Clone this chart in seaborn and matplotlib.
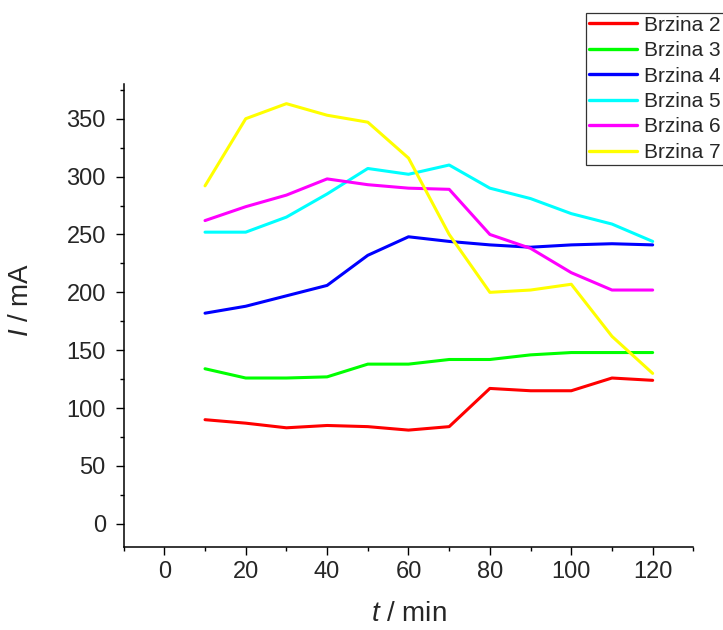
import matplotlib
matplotlib.use("Agg")
import matplotlib.pyplot as plt
import seaborn as sns
import pandas as pd
from matplotlib.ticker import MultipleLocator

# Time points (min) and current readings (mA) for each speed
t_min = [10, 20, 30, 40, 50, 60, 70, 80, 90, 100, 110, 120]
brzina_2 = [90, 87, 83, 85, 84, 81, 84, 117, 115, 115, 126, 124]
brzina_3 = [134, 126, 126, 127, 138, 138, 142, 142, 146, 148, 148, 148]
brzina_4 = [182, 188, 197, 206, 232, 248, 244, 241, 239, 241, 242, 241]
brzina_5 = [252, 252, 265, 285, 307, 302, 310, 290, 281, 268, 259, 244]
brzina_6 = [262, 274, 284, 298, 293, 290, 289, 250, 238, 217, 202, 202]
brzina_7 = [292, 350, 363, 353, 347, 316, 250, 200, 202, 207, 162, 130]

series_names = ["Brzina 2", "Brzina 3", "Brzina 4", "Brzina 5", "Brzina 6", "Brzina 7"]
series_values = [brzina_2, brzina_3, brzina_4, brzina_5, brzina_6, brzina_7]
colors = ["#ff0000", "#00ff00", "#0000ff", "#00ffff", "#ff00ff", "#ffff00"]

# Long format for seaborn
rows = []
for name, vals in zip(series_names, series_values):
    for t, v in zip(t_min, vals):
        rows.append({"t": t, "I": v, "series": name})
df = pd.DataFrame(rows)

sns.set_style("ticks")
plt.rcParams["font.family"] = ["Liberation Sans", "DejaVu Sans"]
plt.rcParams["mathtext.fontset"] = "custom"
plt.rcParams["mathtext.rm"] = "Liberation Sans"
plt.rcParams["mathtext.it"] = "Liberation Sans:italic"

fig = plt.figure(figsize=(7.23, 6.3), dpi=100)
ax = fig.add_axes([0.171, 0.1317, 0.788, 0.735])

sns.lineplot(
    data=df, x="t", y="I", hue="series",
    palette=dict(zip(series_names, colors)),
    linewidth=2.2, ax=ax, legend=False,
)

ax.set_xlim(-10, 130)
ax.set_ylim(-20, 380)
ax.xaxis.set_minor_locator(MultipleLocator(10))
ax.yaxis.set_minor_locator(MultipleLocator(25))
ax.set_xticks([0, 20, 40, 60, 80, 100, 120])
ax.set_yticks([0, 50, 100, 150, 200, 250, 300, 350])
ax.tick_params(axis="both", which="major", direction="out", length=5.8, width=1,
               labelsize=17, color="black")
ax.tick_params(axis="both", which="minor", direction="out", length=3, width=1,
               color="black")
ax.tick_params(axis="x", which="major", pad=4.5)
ax.tick_params(axis="y", which="major", pad=7)

for side in ["top", "right"]:
    ax.spines[side].set_visible(False)
for side in ["left", "bottom"]:
    ax.spines[side].set_linewidth(1.1)
    ax.spines[side].set_color("black")

ax.set_xlabel("$\\it{t}$ / min", fontsize=20)
ax.set_ylabel("$\\it{I}$ / mA", fontsize=20)
ax.xaxis.set_label_coords(0.5, -0.116)
ax.yaxis.set_label_coords(-0.157, 0.533)

# Legend partly outside the figure, like the original
handles = [plt.Line2D([], [], color=c, linewidth=2.4) for c in colors]
leg = fig.legend(
    handles, series_names, loc="upper left",
    bbox_to_anchor=(586 / 723, 1 - 12.5 / 630),
    fontsize=15, frameon=True, fancybox=False, edgecolor="black",
    borderaxespad=0, borderpad=0.15, labelspacing=0.31,
    handlelength=2.3, handletextpad=0.35,
)
leg.get_frame().set_linewidth(0.9)

fig.savefig("out.png", dpi=100)
